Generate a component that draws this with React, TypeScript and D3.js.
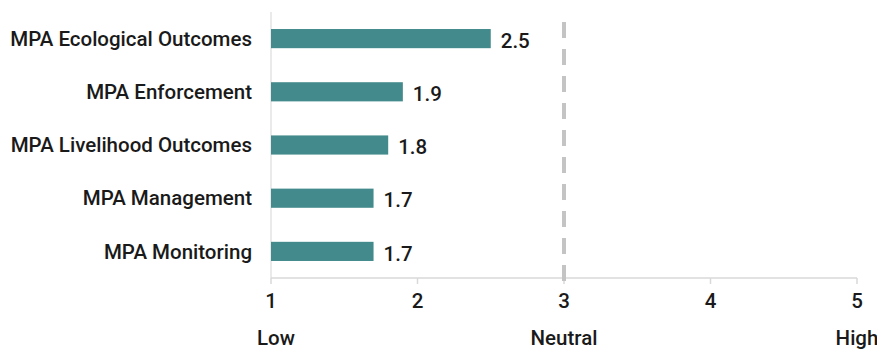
import React from "react";
import * as d3 from "d3";

const categories = [
  "MPA Ecological Outcomes",
  "MPA Enforcement",
  "MPA Livelihood Outcomes",
  "MPA Management",
  "MPA Monitoring",
];
const scores = [2.5, 1.9, 1.8, 1.7, 1.7];
const tickValues = [1, 2, 3, 4, 5];
const scaleLabels = [
  { value: 1, text: "Low" },
  { value: 3, text: "Neutral" },
  { value: 5, text: "High" },
];
const neutralValue = 3;

const W = 877;
const H = 352;
const margin = { top: 12, right: 20, bottom: 74, left: 271 };
const FONT = "Roboto, 'Noto Sans', Arial, sans-serif";
const WEIGHT = 500;
const SIZE = 20.5;

export default function App() {
  const x = d3.scaleLinear().domain([1, 5]).range([margin.left, 857]);
  const y = d3
    .scaleBand<string>()
    .domain(categories)
    .range([margin.top, H - margin.bottom])
    .paddingInner(0.64)
    .paddingOuter(0.32);
  const axisY = H - margin.bottom;

  return (
    <svg
      width={W}
      height={H}
      style={{ position: "absolute", left: 0, top: 0, fontFamily: FONT }}
    >
      {/* left axis line */}
      <line x1={x(1)} x2={x(1)} y1={margin.top} y2={axisY} stroke="#e3e3e3" strokeWidth={1.5} />
      {/* bottom axis */}
      <line x1={x(1)} x2={x(5)} y1={axisY} y2={axisY} stroke="#d9d9d9" strokeWidth={1.5} />
      {tickValues.map((t) => (
        <g key={t}>
          <line x1={x(t)} x2={x(t)} y1={axisY} y2={axisY + 6} stroke="#d9d9d9" strokeWidth={1.5} />
          <text
            x={x(t)}
            y={axisY + 30}
            textAnchor="middle"
            fontSize={SIZE}
            fontWeight={WEIGHT}
            fill="#1a1a1a"
          >
            {t}
          </text>
        </g>
      ))}
      {/* neutral reference line */}
      <line
        x1={x(neutralValue)}
        x2={x(neutralValue)}
        y1={22}
        y2={axisY + 4}
        stroke="#c4c4c4"
        strokeWidth={4}
        strokeDasharray="16 11"
      />
      {/* bars */}
      {categories.map((c, i) => {
        const yy = y(c) as number;
        return (
          <g key={c}>
            <rect
              x={x(1)}
              y={yy}
              width={x(scores[i]) - x(1)}
              height={y.bandwidth()}
              fill="#428a8c"
            />
            <text
              x={x(1) - 19}
              y={yy + y.bandwidth() / 2}
              dy="0.35em"
              textAnchor="end"
              fontSize={SIZE}
              fontWeight={WEIGHT}
              fill="#1a1a1a"
            >
              {c}
            </text>
            <text
              x={x(scores[i]) + 10}
              y={yy + y.bandwidth() / 2 + 2}
              dy="0.35em"
              fontSize={SIZE}
              fontWeight={WEIGHT}
              fill="#1a1a1a"
            >
              {scores[i].toFixed(1)}
            </text>
          </g>
        );
      })}
      {/* scale descriptors */}
      {scaleLabels.map((s) => (
        <text
          key={s.text}
          x={s.value === 1 ? x(s.value) + 5 : x(s.value)}
          y={H - 7}
          textAnchor="middle"
          fontSize={SIZE}
          fontWeight={WEIGHT}
          fill="#1a1a1a"
        >
          {s.text}
        </text>
      ))}
    </svg>
  );
}
